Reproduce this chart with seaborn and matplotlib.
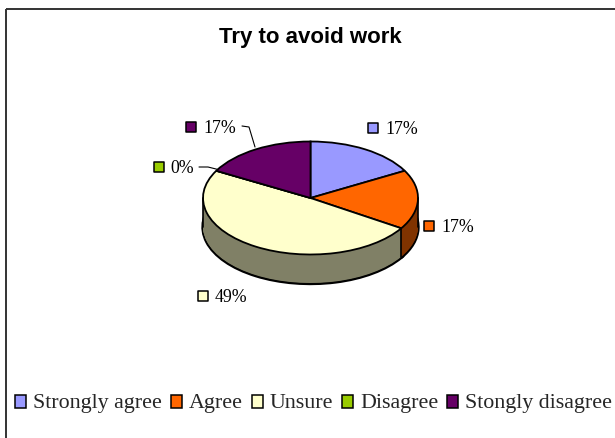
import numpy as np
import matplotlib
matplotlib.use("Agg")
import matplotlib.pyplot as plt
from matplotlib.legend_handler import HandlerPatch
from matplotlib.patches import Patch, Rectangle
import seaborn as sns

# chart data
categories = ["Strongly agree", "Agree", "Unsure", "Disagree", "Stongly disagree"]
values = [17, 17, 49, 0, 17]
colors = ["#9999FF", "#FF6600", "#FFFFCC", "#99CC00", "#660066"]
title = "Try to avoid work"

# label placement in picture pixels
label_x = [373, 429, 203, 159, 191]
label_y = [129, 227, 297, 168, 128]

W, H = 615, 439
CX, CY = 310.5, 199     # centre of top face
RX, RY = 107.5, 56.5
DEPTH = 29              # pixels


def legend_key(legend, orig_handle, xdescent, ydescent, width, height, fontsize):
    # keys sit a little lower than the default, level with the text
    return Rectangle((-xdescent, -ydescent - 1.8), width, height)


sns.set_theme(style="white")
plt.rcParams["font.family"] = ["Liberation Serif", "DejaVu Serif"]

fig = plt.figure(figsize=(W / 100, H / 100), dpi=100, facecolor="white")

# -----------------------------
# pie: one unit is RX across and RY down, so circles come out as ellipses
# -----------------------------
ax = fig.add_axes([0, 0, 1, 1])
side_colors = [tuple(c / 2 for c in matplotlib.colors.to_rgb(col)) for col in colors]
depth_units = DEPTH / RY

ax.pie(values, colors=side_colors, startangle=90, counterclock=False, center=(0, -depth_units),
       wedgeprops={"edgecolor": "black", "linewidth": 2.4})
for off in np.linspace(depth_units, 0, DEPTH * 2)[1:-1]:
    ax.pie(values, colors=side_colors, startangle=90, counterclock=False, center=(0, -off),
           wedgeprops={"edgecolor": "none", "linewidth": 0})

# vertical edges of the wall, taken from the slice boundaries
theta = np.deg2rad(90 - 360 * np.cumsum(values) / np.sum(values))
for t in theta:
    if np.sin(t) < 0:
        ax.plot([np.cos(t)] * 2, [np.sin(t), np.sin(t) - depth_units], color="black", lw=1.2)
for sx in [-1, 1]:
    ax.plot([sx, sx], [0, -depth_units], color="black", lw=1.2)

ax.pie(values, colors=colors, startangle=90, counterclock=False,
       wedgeprops={"edgecolor": "black", "linewidth": 1.3})

ax.set_aspect("auto")
ax.set_xlim((0 - CX) / RX, (W - CX) / RX)
ax.set_ylim((CY - H) / RY, CY / RY)
ax.axis("off")

# -----------------------------
# overlay in pixel coordinates: frame, labels, title
# -----------------------------
top = fig.add_axes([0, 0, 1, 1], facecolor="none")
top.set_xlim(0, W)
top.set_ylim(H, 0)
top.axis("off")

top.plot([6, 6], [H, 10], color="#333333", lw=1.4, solid_capstyle="butt")
top.plot([6, W], [10, 10], color="#333333", lw=1.4, solid_capstyle="butt")

sns.scatterplot(x=label_x, y=label_y, hue=categories, palette=colors, hue_order=categories,
                marker="s", s=58, edgecolor="black", linewidth=1.1, legend=False, ax=top,
                clip_on=False)
for x, y, v in zip(label_x, label_y, values):
    pad = 11 if v == 0 else 12
    top.text(x + pad, y + 0.5, f"{v}%", fontsize=12.8, color="black", va="center", ha="left")

# leader lines
top.plot([199, 208, 218], [168, 168, 170.5], color="black", lw=0.8)
top.plot([242, 249, 255], [127, 128, 148], color="black", lw=0.8)

top.text(310.5, 37.5, title, fontsize=16, fontweight="bold", ha="center", va="center",
         family=["Liberation Sans", "DejaVu Sans"], color="black")

handles = [Patch(facecolor=c, edgecolor="black", linewidth=1.1) for c in colors]
top.legend(handles, categories, ncol=5, loc="center", bbox_to_anchor=(313.5, 403.5),
           bbox_transform=top.transData, frameon=False, fontsize=15.85,
           handlelength=0.52, handleheight=0.52, handletextpad=0.3, columnspacing=0.4,
           borderpad=0, borderaxespad=0,
           handler_map={Patch: HandlerPatch(patch_func=legend_key)})

fig.savefig("out.png", dpi=100)
plt.close(fig)
